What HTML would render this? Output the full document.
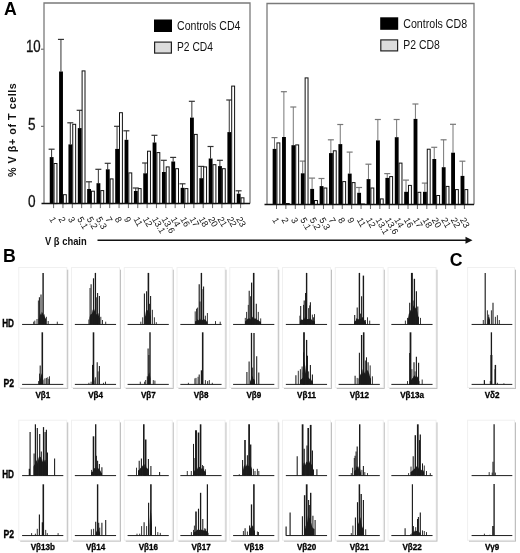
<!DOCTYPE html><html><head><meta charset="utf-8"><style>html,body{margin:0;padding:0;background:#fff;width:520px;height:553px;overflow:hidden}svg{display:block;will-change:transform}text{font-family:"Liberation Sans",sans-serif}</style></head><body>
<svg width="520" height="553" viewBox="0 0 520 553">
<rect width="520" height="553" fill="#fff"/>
<text x="4" y="14.5" font-size="17.7" font-weight="bold" fill="#000">A</text>
<text x="3" y="261.6" font-size="17.7" font-weight="bold" fill="#000">B</text>
<text x="449.8" y="266.2" font-size="17.7" font-weight="bold" fill="#000">C</text>
<text transform="translate(25.9 52.4) scale(0.8 1)" font-size="16.6" fill="#111" stroke="#111" stroke-width="0.3">10</text>
<text transform="translate(28.1 130.2) scale(0.82 1)" font-size="16.6" fill="#111" stroke="#111" stroke-width="0.3">5</text>
<text transform="translate(28.1 207.1) scale(0.82 1)" font-size="16.6" fill="#111" stroke="#111" stroke-width="0.3">0</text>
<line x1="41" y1="49.2" x2="44" y2="49.2" stroke="#555" stroke-width="1"/>
<line x1="41" y1="126.3" x2="44" y2="126.3" stroke="#555" stroke-width="1"/>
<text transform="translate(16.4 177) rotate(-90)" font-size="10.8" font-weight="bold" fill="#111" textLength="93.8" lengthAdjust="spacing">% V β+ of T cells</text>
<path d="M44 203.6 V3 H250 V203.6" fill="none" stroke="#7a7a7a" stroke-width="1.3"/>
<line x1="51.60" y1="157.1" x2="51.60" y2="149.2" stroke="#333" stroke-width="1"/>
<line x1="48.60" y1="149.2" x2="54.60" y2="149.2" stroke="#333" stroke-width="1.2"/>
<rect x="49.75" y="157.1" width="3.85" height="46.50" fill="#000"/>
<rect x="54.05" y="163.50" width="2.9" height="40.10" fill="#fff" stroke="#111" stroke-width="1"/>
<line x1="53.60" y1="203.6" x2="53.60" y2="208.1" stroke="#444" stroke-width="0.8"/>
<text transform="translate(49.00 218.90) rotate(60)" font-size="9" fill="#111">1</text>
<line x1="60.95" y1="71.5" x2="60.95" y2="39.4" stroke="#333" stroke-width="1"/>
<line x1="57.95" y1="39.4" x2="63.95" y2="39.4" stroke="#333" stroke-width="1.2"/>
<rect x="59.10" y="71.5" width="3.85" height="132.10" fill="#000"/>
<rect x="63.40" y="194.70" width="2.9" height="8.90" fill="#fff" stroke="#111" stroke-width="1"/>
<line x1="62.95" y1="203.6" x2="62.95" y2="208.1" stroke="#444" stroke-width="0.8"/>
<text transform="translate(58.35 218.90) rotate(60)" font-size="9" fill="#111">2</text>
<line x1="70.30" y1="144.4" x2="70.30" y2="122.8" stroke="#333" stroke-width="1"/>
<line x1="67.30" y1="122.8" x2="73.30" y2="122.8" stroke="#333" stroke-width="1.2"/>
<rect x="68.45" y="144.4" width="3.85" height="59.20" fill="#000"/>
<rect x="72.75" y="124.30" width="2.9" height="79.30" fill="#fff" stroke="#111" stroke-width="1"/>
<line x1="72.30" y1="203.6" x2="72.30" y2="208.1" stroke="#444" stroke-width="0.8"/>
<text transform="translate(67.70 218.90) rotate(60)" font-size="9" fill="#111">3</text>
<line x1="79.65" y1="128.1" x2="79.65" y2="110.3" stroke="#333" stroke-width="1"/>
<line x1="76.65" y1="110.3" x2="82.65" y2="110.3" stroke="#333" stroke-width="1.2"/>
<rect x="77.80" y="128.1" width="3.85" height="75.50" fill="#000"/>
<rect x="82.10" y="70.90" width="2.9" height="132.70" fill="#fff" stroke="#111" stroke-width="1"/>
<line x1="81.65" y1="203.6" x2="81.65" y2="208.1" stroke="#444" stroke-width="0.8"/>
<text transform="translate(77.05 218.90) rotate(60)" font-size="9" fill="#111">5.1</text>
<line x1="89.00" y1="189" x2="89.00" y2="181.8" stroke="#333" stroke-width="1"/>
<line x1="86.00" y1="181.8" x2="92.00" y2="181.8" stroke="#333" stroke-width="1.2"/>
<rect x="87.15" y="189" width="3.85" height="14.60" fill="#000"/>
<rect x="91.45" y="191.20" width="2.9" height="12.40" fill="#fff" stroke="#111" stroke-width="1"/>
<line x1="91.00" y1="203.6" x2="91.00" y2="208.1" stroke="#444" stroke-width="0.8"/>
<text transform="translate(86.40 218.90) rotate(60)" font-size="9" fill="#111">5.2</text>
<line x1="98.35" y1="183.2" x2="98.35" y2="169.3" stroke="#333" stroke-width="1"/>
<line x1="95.35" y1="169.3" x2="101.35" y2="169.3" stroke="#333" stroke-width="1.2"/>
<rect x="96.50" y="183.2" width="3.85" height="20.40" fill="#000"/>
<rect x="100.80" y="190.60" width="2.9" height="13.00" fill="#fff" stroke="#111" stroke-width="1"/>
<line x1="100.35" y1="203.6" x2="100.35" y2="208.1" stroke="#444" stroke-width="0.8"/>
<text transform="translate(95.75 218.90) rotate(60)" font-size="9" fill="#111">5.3</text>
<line x1="107.70" y1="169.3" x2="107.70" y2="163.3" stroke="#333" stroke-width="1"/>
<line x1="104.70" y1="163.3" x2="110.70" y2="163.3" stroke="#333" stroke-width="1.2"/>
<rect x="105.85" y="169.3" width="3.85" height="34.30" fill="#000"/>
<rect x="110.15" y="178.90" width="2.9" height="24.70" fill="#fff" stroke="#111" stroke-width="1"/>
<line x1="109.70" y1="203.6" x2="109.70" y2="208.1" stroke="#444" stroke-width="0.8"/>
<text transform="translate(105.10 218.90) rotate(60)" font-size="9" fill="#111">7</text>
<line x1="117.05" y1="148.9" x2="117.05" y2="126.3" stroke="#333" stroke-width="1"/>
<line x1="114.05" y1="126.3" x2="120.05" y2="126.3" stroke="#333" stroke-width="1.2"/>
<rect x="115.20" y="148.9" width="3.85" height="54.70" fill="#000"/>
<rect x="119.50" y="112.70" width="2.9" height="90.90" fill="#fff" stroke="#111" stroke-width="1"/>
<line x1="119.05" y1="203.6" x2="119.05" y2="208.1" stroke="#444" stroke-width="0.8"/>
<text transform="translate(114.45 218.90) rotate(60)" font-size="9" fill="#111">8</text>
<line x1="126.40" y1="139.8" x2="126.40" y2="130.8" stroke="#333" stroke-width="1"/>
<line x1="123.40" y1="130.8" x2="129.40" y2="130.8" stroke="#333" stroke-width="1.2"/>
<rect x="124.55" y="139.8" width="3.85" height="63.80" fill="#000"/>
<rect x="128.85" y="172.90" width="2.9" height="30.70" fill="#fff" stroke="#111" stroke-width="1"/>
<line x1="128.40" y1="203.6" x2="128.40" y2="208.1" stroke="#444" stroke-width="0.8"/>
<text transform="translate(123.80 218.90) rotate(60)" font-size="9" fill="#111">9</text>
<line x1="135.75" y1="191" x2="135.75" y2="188" stroke="#333" stroke-width="1"/>
<line x1="132.75" y1="188" x2="138.75" y2="188" stroke="#333" stroke-width="1.2"/>
<rect x="133.90" y="191" width="3.85" height="12.60" fill="#000"/>
<rect x="138.20" y="188.60" width="2.9" height="15.00" fill="#fff" stroke="#111" stroke-width="1"/>
<line x1="137.75" y1="203.6" x2="137.75" y2="208.1" stroke="#444" stroke-width="0.8"/>
<text transform="translate(133.15 218.90) rotate(60)" font-size="9" fill="#111">11</text>
<line x1="145.10" y1="173.3" x2="145.10" y2="163" stroke="#333" stroke-width="1"/>
<line x1="142.10" y1="163" x2="148.10" y2="163" stroke="#333" stroke-width="1.2"/>
<rect x="143.25" y="173.3" width="3.85" height="30.30" fill="#000"/>
<rect x="147.55" y="151.20" width="2.9" height="52.40" fill="#fff" stroke="#111" stroke-width="1"/>
<line x1="147.10" y1="203.6" x2="147.10" y2="208.1" stroke="#444" stroke-width="0.8"/>
<text transform="translate(142.50 218.90) rotate(60)" font-size="9" fill="#111">12</text>
<line x1="154.45" y1="142.5" x2="154.45" y2="135.3" stroke="#333" stroke-width="1"/>
<line x1="151.45" y1="135.3" x2="157.45" y2="135.3" stroke="#333" stroke-width="1.2"/>
<rect x="152.60" y="142.5" width="3.85" height="61.10" fill="#000"/>
<rect x="156.90" y="152.60" width="2.9" height="51.00" fill="#fff" stroke="#111" stroke-width="1"/>
<line x1="156.45" y1="203.6" x2="156.45" y2="208.1" stroke="#444" stroke-width="0.8"/>
<text transform="translate(151.85 218.90) rotate(60)" font-size="9" fill="#111">13.1</text>
<line x1="163.80" y1="172" x2="163.80" y2="160.3" stroke="#333" stroke-width="1"/>
<line x1="160.80" y1="160.3" x2="166.80" y2="160.3" stroke="#333" stroke-width="1.2"/>
<rect x="161.95" y="172" width="3.85" height="31.60" fill="#000"/>
<rect x="166.25" y="166.90" width="2.9" height="36.70" fill="#fff" stroke="#111" stroke-width="1"/>
<line x1="165.80" y1="203.6" x2="165.80" y2="208.1" stroke="#444" stroke-width="0.8"/>
<text transform="translate(161.20 218.90) rotate(60)" font-size="9" fill="#111">13.6</text>
<line x1="173.15" y1="161.5" x2="173.15" y2="157.4" stroke="#333" stroke-width="1"/>
<line x1="170.15" y1="157.4" x2="176.15" y2="157.4" stroke="#333" stroke-width="1.2"/>
<rect x="171.30" y="161.5" width="3.85" height="42.10" fill="#000"/>
<rect x="175.60" y="168.70" width="2.9" height="34.90" fill="#fff" stroke="#111" stroke-width="1"/>
<line x1="175.15" y1="203.6" x2="175.15" y2="208.1" stroke="#444" stroke-width="0.8"/>
<text transform="translate(170.55 218.90) rotate(60)" font-size="9" fill="#111">14</text>
<line x1="182.50" y1="187.8" x2="182.50" y2="183.8" stroke="#333" stroke-width="1"/>
<line x1="179.50" y1="183.8" x2="185.50" y2="183.8" stroke="#333" stroke-width="1.2"/>
<rect x="180.65" y="187.8" width="3.85" height="15.80" fill="#000"/>
<rect x="184.95" y="188.60" width="2.9" height="15.00" fill="#fff" stroke="#111" stroke-width="1"/>
<line x1="184.50" y1="203.6" x2="184.50" y2="208.1" stroke="#444" stroke-width="0.8"/>
<text transform="translate(179.90 218.90) rotate(60)" font-size="9" fill="#111">16</text>
<line x1="191.85" y1="117.6" x2="191.85" y2="101.3" stroke="#333" stroke-width="1"/>
<line x1="188.85" y1="101.3" x2="194.85" y2="101.3" stroke="#333" stroke-width="1.2"/>
<rect x="190.00" y="117.6" width="3.85" height="86.00" fill="#000"/>
<rect x="194.30" y="134.40" width="2.9" height="69.20" fill="#fff" stroke="#111" stroke-width="1"/>
<line x1="193.85" y1="203.6" x2="193.85" y2="208.1" stroke="#444" stroke-width="0.8"/>
<text transform="translate(189.25 218.90) rotate(60)" font-size="9" fill="#111">17</text>
<line x1="201.20" y1="178.2" x2="201.20" y2="166.4" stroke="#333" stroke-width="1"/>
<line x1="198.20" y1="166.4" x2="204.20" y2="166.4" stroke="#333" stroke-width="1.2"/>
<rect x="199.35" y="178.2" width="3.85" height="25.40" fill="#000"/>
<rect x="203.65" y="166.90" width="2.9" height="36.70" fill="#fff" stroke="#111" stroke-width="1"/>
<line x1="203.20" y1="203.6" x2="203.20" y2="208.1" stroke="#444" stroke-width="0.8"/>
<text transform="translate(198.60 218.90) rotate(60)" font-size="9" fill="#111">18</text>
<line x1="210.55" y1="158.5" x2="210.55" y2="146.5" stroke="#333" stroke-width="1"/>
<line x1="207.55" y1="146.5" x2="213.55" y2="146.5" stroke="#333" stroke-width="1.2"/>
<rect x="208.70" y="158.5" width="3.85" height="45.10" fill="#000"/>
<rect x="213.00" y="164.70" width="2.9" height="38.90" fill="#fff" stroke="#111" stroke-width="1"/>
<line x1="212.55" y1="203.6" x2="212.55" y2="208.1" stroke="#444" stroke-width="0.8"/>
<text transform="translate(207.95 218.90) rotate(60)" font-size="9" fill="#111">20</text>
<line x1="219.90" y1="166.1" x2="219.90" y2="160.3" stroke="#333" stroke-width="1"/>
<line x1="216.90" y1="160.3" x2="222.90" y2="160.3" stroke="#333" stroke-width="1.2"/>
<rect x="218.05" y="166.1" width="3.85" height="37.50" fill="#000"/>
<rect x="222.35" y="168.70" width="2.9" height="34.90" fill="#fff" stroke="#111" stroke-width="1"/>
<line x1="221.90" y1="203.6" x2="221.90" y2="208.1" stroke="#444" stroke-width="0.8"/>
<text transform="translate(217.30 218.90) rotate(60)" font-size="9" fill="#111">21</text>
<line x1="229.25" y1="132.1" x2="229.25" y2="100" stroke="#333" stroke-width="1"/>
<line x1="226.25" y1="100" x2="232.25" y2="100" stroke="#333" stroke-width="1.2"/>
<rect x="227.40" y="132.1" width="3.85" height="71.50" fill="#000"/>
<rect x="231.70" y="86.10" width="2.9" height="117.50" fill="#fff" stroke="#111" stroke-width="1"/>
<line x1="231.25" y1="203.6" x2="231.25" y2="208.1" stroke="#444" stroke-width="0.8"/>
<text transform="translate(226.65 218.90) rotate(60)" font-size="9" fill="#111">22</text>
<line x1="238.60" y1="193.7" x2="238.60" y2="190.8" stroke="#333" stroke-width="1"/>
<line x1="235.60" y1="190.8" x2="241.60" y2="190.8" stroke="#333" stroke-width="1.2"/>
<rect x="236.75" y="193.7" width="3.85" height="9.90" fill="#000"/>
<rect x="241.05" y="197.80" width="2.9" height="5.80" fill="#fff" stroke="#111" stroke-width="1"/>
<line x1="240.60" y1="203.6" x2="240.60" y2="208.1" stroke="#444" stroke-width="0.8"/>
<text transform="translate(236.00 218.90) rotate(60)" font-size="9" fill="#111">23</text>
<line x1="41.5" y1="203.6" x2="250" y2="203.6" stroke="#111" stroke-width="1.5"/>
<rect x="154" y="19.5" width="18" height="12.5" fill="#000"/>
<rect x="154.6" y="42.1" width="16.8" height="11" fill="#dcdcdc" stroke="#222" stroke-width="1.2"/>
<text x="177" y="29.7" font-size="13" fill="#111" textLength="63.5" lengthAdjust="spacingAndGlyphs">Controls CD4</text>
<text x="177" y="50.7" font-size="13" fill="#111" textLength="36" lengthAdjust="spacingAndGlyphs">P2 CD4</text>
<path d="M267 204.5 V3.5 H474 V204.5" fill="none" stroke="#7a7a7a" stroke-width="1.3"/>
<line x1="274.50" y1="148.9" x2="274.50" y2="137.6" stroke="#777" stroke-width="1"/>
<line x1="271.50" y1="137.6" x2="277.50" y2="137.6" stroke="#777" stroke-width="1.2"/>
<rect x="272.65" y="148.9" width="3.85" height="55.60" fill="#000"/>
<rect x="276.95" y="142.90" width="2.9" height="61.60" fill="#fff" stroke="#111" stroke-width="1"/>
<line x1="276.50" y1="204.5" x2="276.50" y2="209.0" stroke="#444" stroke-width="0.8"/>
<text transform="translate(271.90 219.80) rotate(60)" font-size="9" fill="#111">1</text>
<line x1="283.89" y1="137" x2="283.89" y2="91.7" stroke="#777" stroke-width="1"/>
<line x1="280.89" y1="91.7" x2="286.89" y2="91.7" stroke="#777" stroke-width="1.2"/>
<rect x="282.04" y="137" width="3.85" height="67.50" fill="#000"/>
<rect x="286.34" y="203.50" width="2.9" height="1.00" fill="#fff" stroke="#111" stroke-width="1"/>
<line x1="285.89" y1="204.5" x2="285.89" y2="209.0" stroke="#444" stroke-width="0.8"/>
<text transform="translate(281.29 219.80) rotate(60)" font-size="9" fill="#111">2</text>
<line x1="293.29" y1="145.2" x2="293.29" y2="107" stroke="#777" stroke-width="1"/>
<line x1="290.29" y1="107" x2="296.29" y2="107" stroke="#777" stroke-width="1.2"/>
<rect x="291.44" y="145.2" width="3.85" height="59.30" fill="#000"/>
<rect x="295.74" y="144.90" width="2.9" height="59.60" fill="#fff" stroke="#111" stroke-width="1"/>
<line x1="295.29" y1="204.5" x2="295.29" y2="209.0" stroke="#444" stroke-width="0.8"/>
<text transform="translate(290.69 219.80) rotate(60)" font-size="9" fill="#111">3</text>
<line x1="302.69" y1="173.3" x2="302.69" y2="161.1" stroke="#777" stroke-width="1"/>
<line x1="299.69" y1="161.1" x2="305.69" y2="161.1" stroke="#777" stroke-width="1.2"/>
<rect x="300.83" y="173.3" width="3.85" height="31.20" fill="#000"/>
<rect x="305.13" y="77.90" width="2.9" height="126.60" fill="#fff" stroke="#111" stroke-width="1"/>
<line x1="304.69" y1="204.5" x2="304.69" y2="209.0" stroke="#444" stroke-width="0.8"/>
<text transform="translate(300.08 219.80) rotate(60)" font-size="9" fill="#111">5.1</text>
<line x1="312.08" y1="188.9" x2="312.08" y2="178.1" stroke="#777" stroke-width="1"/>
<line x1="309.08" y1="178.1" x2="315.08" y2="178.1" stroke="#777" stroke-width="1.2"/>
<rect x="310.23" y="188.9" width="3.85" height="15.60" fill="#000"/>
<rect x="314.53" y="200.50" width="2.9" height="4.00" fill="#fff" stroke="#111" stroke-width="1"/>
<line x1="314.08" y1="204.5" x2="314.08" y2="209.0" stroke="#444" stroke-width="0.8"/>
<text transform="translate(309.48 219.80) rotate(60)" font-size="9" fill="#111">5.2</text>
<line x1="321.48" y1="186.1" x2="321.48" y2="178.5" stroke="#777" stroke-width="1"/>
<line x1="318.48" y1="178.5" x2="324.48" y2="178.5" stroke="#777" stroke-width="1.2"/>
<rect x="319.62" y="186.1" width="3.85" height="18.40" fill="#000"/>
<rect x="323.93" y="188.00" width="2.9" height="16.50" fill="#fff" stroke="#111" stroke-width="1"/>
<line x1="323.48" y1="204.5" x2="323.48" y2="209.0" stroke="#444" stroke-width="0.8"/>
<text transform="translate(318.88 219.80) rotate(60)" font-size="9" fill="#111">5.3</text>
<line x1="330.87" y1="153.1" x2="330.87" y2="139.8" stroke="#777" stroke-width="1"/>
<line x1="327.87" y1="139.8" x2="333.87" y2="139.8" stroke="#777" stroke-width="1.2"/>
<rect x="329.02" y="153.1" width="3.85" height="51.40" fill="#000"/>
<rect x="333.32" y="150.80" width="2.9" height="53.70" fill="#fff" stroke="#111" stroke-width="1"/>
<line x1="332.87" y1="204.5" x2="332.87" y2="209.0" stroke="#444" stroke-width="0.8"/>
<text transform="translate(328.27 219.80) rotate(60)" font-size="9" fill="#111">7</text>
<line x1="340.26" y1="144.1" x2="340.26" y2="124.5" stroke="#777" stroke-width="1"/>
<line x1="337.26" y1="124.5" x2="343.26" y2="124.5" stroke="#777" stroke-width="1.2"/>
<rect x="338.41" y="144.1" width="3.85" height="60.40" fill="#000"/>
<rect x="342.71" y="181.60" width="2.9" height="22.90" fill="#fff" stroke="#111" stroke-width="1"/>
<line x1="342.26" y1="204.5" x2="342.26" y2="209.0" stroke="#444" stroke-width="0.8"/>
<text transform="translate(337.66 219.80) rotate(60)" font-size="9" fill="#111">8</text>
<line x1="349.66" y1="173.6" x2="349.66" y2="152.1" stroke="#777" stroke-width="1"/>
<line x1="346.66" y1="152.1" x2="352.66" y2="152.1" stroke="#777" stroke-width="1.2"/>
<rect x="347.81" y="173.6" width="3.85" height="30.90" fill="#000"/>
<rect x="352.11" y="182.60" width="2.9" height="21.90" fill="#fff" stroke="#111" stroke-width="1"/>
<line x1="351.66" y1="204.5" x2="351.66" y2="209.0" stroke="#444" stroke-width="0.8"/>
<text transform="translate(347.06 219.80) rotate(60)" font-size="9" fill="#111">9</text>
<line x1="359.06" y1="192.8" x2="359.06" y2="187.5" stroke="#777" stroke-width="1"/>
<line x1="356.06" y1="187.5" x2="362.06" y2="187.5" stroke="#777" stroke-width="1.2"/>
<rect x="357.20" y="192.8" width="3.85" height="11.70" fill="#000"/>
<rect x="361.50" y="204.00" width="2.9" height="0.50" fill="#fff" stroke="#111" stroke-width="1"/>
<line x1="361.06" y1="204.5" x2="361.06" y2="209.0" stroke="#444" stroke-width="0.8"/>
<text transform="translate(356.45 219.80) rotate(60)" font-size="9" fill="#111">11</text>
<line x1="368.45" y1="179.1" x2="368.45" y2="164.2" stroke="#777" stroke-width="1"/>
<line x1="365.45" y1="164.2" x2="371.45" y2="164.2" stroke="#777" stroke-width="1.2"/>
<rect x="366.60" y="179.1" width="3.85" height="25.40" fill="#000"/>
<rect x="370.90" y="188.00" width="2.9" height="16.50" fill="#fff" stroke="#111" stroke-width="1"/>
<line x1="370.45" y1="204.5" x2="370.45" y2="209.0" stroke="#444" stroke-width="0.8"/>
<text transform="translate(365.85 219.80) rotate(60)" font-size="9" fill="#111">12</text>
<line x1="377.85" y1="140.4" x2="377.85" y2="119.5" stroke="#777" stroke-width="1"/>
<line x1="374.85" y1="119.5" x2="380.85" y2="119.5" stroke="#777" stroke-width="1.2"/>
<rect x="376.00" y="140.4" width="3.85" height="64.10" fill="#000"/>
<rect x="380.30" y="198.90" width="2.9" height="5.60" fill="#fff" stroke="#111" stroke-width="1"/>
<line x1="379.85" y1="204.5" x2="379.85" y2="209.0" stroke="#444" stroke-width="0.8"/>
<text transform="translate(375.25 219.80) rotate(60)" font-size="9" fill="#111">13.1</text>
<line x1="387.24" y1="177.9" x2="387.24" y2="173.6" stroke="#777" stroke-width="1"/>
<line x1="384.24" y1="173.6" x2="390.24" y2="173.6" stroke="#777" stroke-width="1.2"/>
<rect x="385.39" y="177.9" width="3.85" height="26.60" fill="#000"/>
<rect x="389.69" y="176.60" width="2.9" height="27.90" fill="#fff" stroke="#111" stroke-width="1"/>
<line x1="389.24" y1="204.5" x2="389.24" y2="209.0" stroke="#444" stroke-width="0.8"/>
<text transform="translate(384.64 219.80) rotate(60)" font-size="9" fill="#111">13.6</text>
<line x1="396.63" y1="137.2" x2="396.63" y2="119.5" stroke="#777" stroke-width="1"/>
<line x1="393.63" y1="119.5" x2="399.63" y2="119.5" stroke="#777" stroke-width="1.2"/>
<rect x="394.78" y="137.2" width="3.85" height="67.30" fill="#000"/>
<rect x="399.08" y="163.10" width="2.9" height="41.40" fill="#fff" stroke="#111" stroke-width="1"/>
<line x1="398.63" y1="204.5" x2="398.63" y2="209.0" stroke="#444" stroke-width="0.8"/>
<text transform="translate(394.03 219.80) rotate(60)" font-size="9" fill="#111">14</text>
<line x1="406.03" y1="191.8" x2="406.03" y2="180.1" stroke="#777" stroke-width="1"/>
<line x1="403.03" y1="180.1" x2="409.03" y2="180.1" stroke="#777" stroke-width="1.2"/>
<rect x="404.18" y="191.8" width="3.85" height="12.70" fill="#000"/>
<rect x="408.48" y="185.40" width="2.9" height="19.10" fill="#fff" stroke="#111" stroke-width="1"/>
<line x1="408.03" y1="204.5" x2="408.03" y2="209.0" stroke="#444" stroke-width="0.8"/>
<text transform="translate(403.43 219.80) rotate(60)" font-size="9" fill="#111">16</text>
<line x1="415.42" y1="118.9" x2="415.42" y2="104" stroke="#777" stroke-width="1"/>
<line x1="412.42" y1="104" x2="418.42" y2="104" stroke="#777" stroke-width="1.2"/>
<rect x="413.57" y="118.9" width="3.85" height="85.60" fill="#000"/>
<rect x="417.87" y="192.30" width="2.9" height="12.20" fill="#fff" stroke="#111" stroke-width="1"/>
<line x1="417.42" y1="204.5" x2="417.42" y2="209.0" stroke="#444" stroke-width="0.8"/>
<text transform="translate(412.82 219.80) rotate(60)" font-size="9" fill="#111">17</text>
<line x1="424.82" y1="191.8" x2="424.82" y2="183.1" stroke="#777" stroke-width="1"/>
<line x1="421.82" y1="183.1" x2="427.82" y2="183.1" stroke="#777" stroke-width="1.2"/>
<rect x="422.97" y="191.8" width="3.85" height="12.70" fill="#000"/>
<rect x="427.27" y="149.20" width="2.9" height="55.30" fill="#fff" stroke="#111" stroke-width="1"/>
<line x1="426.82" y1="204.5" x2="426.82" y2="209.0" stroke="#444" stroke-width="0.8"/>
<text transform="translate(422.22 219.80) rotate(60)" font-size="9" fill="#111">18</text>
<line x1="434.22" y1="159" x2="434.22" y2="147.3" stroke="#777" stroke-width="1"/>
<line x1="431.22" y1="147.3" x2="437.22" y2="147.3" stroke="#777" stroke-width="1.2"/>
<rect x="432.37" y="159" width="3.85" height="45.50" fill="#000"/>
<rect x="436.67" y="195.50" width="2.9" height="9.00" fill="#fff" stroke="#111" stroke-width="1"/>
<line x1="436.22" y1="204.5" x2="436.22" y2="209.0" stroke="#444" stroke-width="0.8"/>
<text transform="translate(431.62 219.80) rotate(60)" font-size="9" fill="#111">20</text>
<line x1="443.61" y1="167.2" x2="443.61" y2="139.8" stroke="#777" stroke-width="1"/>
<line x1="440.61" y1="139.8" x2="446.61" y2="139.8" stroke="#777" stroke-width="1.2"/>
<rect x="441.76" y="167.2" width="3.85" height="37.30" fill="#000"/>
<rect x="446.06" y="186.40" width="2.9" height="18.10" fill="#fff" stroke="#111" stroke-width="1"/>
<line x1="445.61" y1="204.5" x2="445.61" y2="209.0" stroke="#444" stroke-width="0.8"/>
<text transform="translate(441.01 219.80) rotate(60)" font-size="9" fill="#111">21</text>
<line x1="453.00" y1="152.7" x2="453.00" y2="124.3" stroke="#777" stroke-width="1"/>
<line x1="450.00" y1="124.3" x2="456.00" y2="124.3" stroke="#777" stroke-width="1.2"/>
<rect x="451.15" y="152.7" width="3.85" height="51.80" fill="#000"/>
<rect x="455.45" y="189.60" width="2.9" height="14.90" fill="#fff" stroke="#111" stroke-width="1"/>
<line x1="455.00" y1="204.5" x2="455.00" y2="209.0" stroke="#444" stroke-width="0.8"/>
<text transform="translate(450.40 219.80) rotate(60)" font-size="9" fill="#111">22</text>
<line x1="462.40" y1="175.9" x2="462.40" y2="161.2" stroke="#777" stroke-width="1"/>
<line x1="459.40" y1="161.2" x2="465.40" y2="161.2" stroke="#777" stroke-width="1.2"/>
<rect x="460.55" y="175.9" width="3.85" height="28.60" fill="#000"/>
<rect x="464.85" y="189.60" width="2.9" height="14.90" fill="#fff" stroke="#111" stroke-width="1"/>
<line x1="464.40" y1="204.5" x2="464.40" y2="209.0" stroke="#444" stroke-width="0.8"/>
<text transform="translate(459.80 219.80) rotate(60)" font-size="9" fill="#111">23</text>
<line x1="264.5" y1="204.5" x2="474" y2="204.5" stroke="#111" stroke-width="1.5"/>
<rect x="380.2" y="17.3" width="18" height="12.5" fill="#000"/>
<rect x="380.8" y="39.900000000000006" width="16.8" height="11" fill="#dcdcdc" stroke="#222" stroke-width="1.2"/>
<text x="403.2" y="27.5" font-size="13" fill="#111" textLength="64" lengthAdjust="spacingAndGlyphs">Controls CD8</text>
<text x="403.2" y="48.5" font-size="13" fill="#111" textLength="36.6" lengthAdjust="spacingAndGlyphs">P2 CD8</text>
<text x="45" y="245.2" font-size="11" font-weight="bold" fill="#111" textLength="41.7" lengthAdjust="spacingAndGlyphs">V β chain</text>
<line x1="97.5" y1="240.3" x2="467" y2="240.3" stroke="#111" stroke-width="1.5"/>
<path d="M465.5 236.8 L472.5 240.3 L465.5 243.8 Z" fill="#111"/>
<defs><filter id="blur" x="-10%" y="-10%" width="120%" height="120%"><feGaussianBlur stdDeviation="0.7"/></filter></defs>
<rect x="20.2" y="269.7" width="48" height="119.2" fill="#bababa" filter="url(#blur)"/>
<rect x="18.8" y="267.5" width="48" height="120" fill="#fff" stroke="#f0f0f0" stroke-width="1"/>
<line x1="22.10" y1="324.45" x2="63.30" y2="324.45" stroke="#111" stroke-width="0.95"/>
<polygon points="38.50,324.45 38.50,319.34 39.33,317.59 40.17,313.33 41.00,315.26 41.83,311.86 42.67,312.91 43.50,315.34 44.33,314.07 45.17,318.06 46.00,319.03 46.00,324.45" fill="#1e1e1e"/>
<line x1="43.1" y1="324.45" x2="43.1" y2="272.9" stroke="#1a1a1a" stroke-width="1.41"/>
<line x1="41.0" y1="324.45" x2="41.0" y2="294.6" stroke="#1a1a1a" stroke-width="1.06"/>
<line x1="39.4" y1="324.45" x2="39.4" y2="297.3" stroke="#1a1a1a" stroke-width="1.06"/>
<line x1="38.4" y1="324.45" x2="38.4" y2="300.5" stroke="#1a1a1a" stroke-width="0.88"/>
<line x1="44.9" y1="324.45" x2="44.9" y2="318.4" stroke="#1a1a1a" stroke-width="0.88"/>
<line x1="46.4" y1="324.45" x2="46.4" y2="316.8" stroke="#1a1a1a" stroke-width="0.88"/>
<line x1="48.2" y1="324.45" x2="48.2" y2="321" stroke="#1a1a1a" stroke-width="0.88"/>
<line x1="34.8" y1="324.45" x2="34.8" y2="320.6" stroke="#1a1a1a" stroke-width="0.88"/>
<line x1="33.7" y1="324.45" x2="33.7" y2="321.7" stroke="#1a1a1a" stroke-width="0.88"/>
<line x1="57.3" y1="324.45" x2="57.3" y2="321.7" stroke="#1a1a1a" stroke-width="0.88"/>
<line x1="37" y1="324.45" x2="37" y2="319" stroke="#1a1a1a" stroke-width="0.88"/>
<line x1="45.5" y1="324.45" x2="45.5" y2="320" stroke="#1a1a1a" stroke-width="0.88"/>
<line x1="22.10" y1="384.4" x2="63.30" y2="384.4" stroke="#111" stroke-width="0.95"/>
<polygon points="39.50,384.4 39.50,380.94 40.30,378.15 41.10,375.18 41.90,373.25 42.70,378.02 43.50,380.60 43.50,384.4" fill="#1e1e1e"/>
<line x1="42.3" y1="384.4" x2="42.3" y2="332.3" stroke="#1a1a1a" stroke-width="1.58"/>
<line x1="40.2" y1="384.4" x2="40.2" y2="365.4" stroke="#1a1a1a" stroke-width="1.06"/>
<line x1="39.5" y1="384.4" x2="39.5" y2="373.6" stroke="#1a1a1a" stroke-width="0.88"/>
<line x1="38.6" y1="384.4" x2="38.6" y2="381.1" stroke="#1a1a1a" stroke-width="0.88"/>
<line x1="44.9" y1="384.4" x2="44.9" y2="378.4" stroke="#1a1a1a" stroke-width="0.88"/>
<line x1="46.4" y1="384.4" x2="46.4" y2="377.9" stroke="#1a1a1a" stroke-width="0.88"/>
<line x1="47.8" y1="384.4" x2="47.8" y2="377.3" stroke="#1a1a1a" stroke-width="0.88"/>
<line x1="49.5" y1="384.4" x2="49.5" y2="376.3" stroke="#1a1a1a" stroke-width="0.88"/>
<line x1="48.9" y1="384.4" x2="48.9" y2="379" stroke="#1a1a1a" stroke-width="0.88"/>
<text transform="translate(42.80 397.7) scale(0.9 1)" font-size="9" font-weight="bold" fill="#000" stroke="#000" stroke-width="0.3" text-anchor="middle">Vβ1</text>
<rect x="72.95" y="269.7" width="48" height="119.2" fill="#bababa" filter="url(#blur)"/>
<rect x="71.55" y="267.5" width="48" height="120" fill="#fff" stroke="#f0f0f0" stroke-width="1"/>
<line x1="74.85" y1="324.45" x2="116.05" y2="324.45" stroke="#111" stroke-width="0.95"/>
<polygon points="89.50,324.45 89.50,318.01 90.31,314.47 91.12,314.16 91.92,313.73 92.73,309.15 93.54,314.35 94.35,308.64 95.15,312.45 95.96,313.72 96.77,314.46 97.58,314.23 98.38,312.98 99.19,317.60 100.00,318.15 100.00,324.45" fill="#1e1e1e"/>
<line x1="95.4" y1="324.45" x2="95.4" y2="272.9" stroke="#1a1a1a" stroke-width="1.32"/>
<line x1="93.5" y1="324.45" x2="93.5" y2="278.3" stroke="#1a1a1a" stroke-width="1.14"/>
<line x1="91.1" y1="324.45" x2="91.1" y2="284.3" stroke="#1a1a1a" stroke-width="1.06"/>
<line x1="90" y1="324.45" x2="90" y2="288" stroke="#1a1a1a" stroke-width="0.88"/>
<line x1="97.6" y1="324.45" x2="97.6" y2="293" stroke="#1a1a1a" stroke-width="1.06"/>
<line x1="99.4" y1="324.45" x2="99.4" y2="296" stroke="#1a1a1a" stroke-width="1.06"/>
<line x1="96.7" y1="324.45" x2="96.7" y2="297.3" stroke="#1a1a1a" stroke-width="0.88"/>
<line x1="100.8" y1="324.45" x2="100.8" y2="316.8" stroke="#1a1a1a" stroke-width="0.88"/>
<line x1="102.5" y1="324.45" x2="102.5" y2="320" stroke="#1a1a1a" stroke-width="0.88"/>
<line x1="105.7" y1="324.45" x2="105.7" y2="321.7" stroke="#1a1a1a" stroke-width="0.88"/>
<line x1="88.9" y1="324.45" x2="88.9" y2="319.5" stroke="#1a1a1a" stroke-width="0.88"/>
<line x1="74.85" y1="384.4" x2="116.05" y2="384.4" stroke="#111" stroke-width="0.95"/>
<polygon points="92.00,384.4 92.00,380.36 92.83,377.02 93.67,376.33 94.50,381.45 94.50,384.4" fill="#1e1e1e"/>
<line x1="93.5" y1="384.4" x2="93.5" y2="332.3" stroke="#1a1a1a" stroke-width="1.58"/>
<line x1="92.5" y1="384.4" x2="92.5" y2="364.9" stroke="#1a1a1a" stroke-width="1.06"/>
<line x1="97.2" y1="384.4" x2="97.2" y2="362.2" stroke="#1a1a1a" stroke-width="1.06"/>
<line x1="99.4" y1="384.4" x2="99.4" y2="366" stroke="#1a1a1a" stroke-width="1.06"/>
<line x1="98.1" y1="384.4" x2="98.1" y2="371.4" stroke="#1a1a1a" stroke-width="0.88"/>
<line x1="95.4" y1="384.4" x2="95.4" y2="377.3" stroke="#1a1a1a" stroke-width="0.88"/>
<line x1="91.1" y1="384.4" x2="91.1" y2="381.7" stroke="#1a1a1a" stroke-width="0.88"/>
<line x1="105.5" y1="384.4" x2="105.5" y2="381.7" stroke="#1a1a1a" stroke-width="0.88"/>
<line x1="103.5" y1="384.4" x2="103.5" y2="382.8" stroke="#1a1a1a" stroke-width="0.88"/>
<line x1="88.9" y1="384.4" x2="88.9" y2="382.8" stroke="#1a1a1a" stroke-width="0.88"/>
<text transform="translate(95.55 397.7) scale(0.9 1)" font-size="9" font-weight="bold" fill="#000" stroke="#000" stroke-width="0.3" text-anchor="middle">Vβ4</text>
<rect x="125.7" y="269.7" width="48" height="119.2" fill="#bababa" filter="url(#blur)"/>
<rect x="124.3" y="267.5" width="48" height="120" fill="#fff" stroke="#f0f0f0" stroke-width="1"/>
<line x1="127.60" y1="324.45" x2="168.80" y2="324.45" stroke="#111" stroke-width="0.95"/>
<polygon points="144.50,324.45 144.50,319.03 145.31,315.35 146.12,309.92 146.94,310.07 147.75,310.44 148.56,308.89 149.38,311.44 150.19,314.85 151.00,316.47 151.00,324.45" fill="#1e1e1e"/>
<line x1="148.4" y1="324.45" x2="148.4" y2="272.9" stroke="#1a1a1a" stroke-width="1.58"/>
<line x1="146.6" y1="324.45" x2="146.6" y2="291.3" stroke="#1a1a1a" stroke-width="1.06"/>
<line x1="144.4" y1="324.45" x2="144.4" y2="293.5" stroke="#1a1a1a" stroke-width="1.06"/>
<line x1="150.6" y1="324.45" x2="150.6" y2="296" stroke="#1a1a1a" stroke-width="1.06"/>
<line x1="149.5" y1="324.45" x2="149.5" y2="303.8" stroke="#1a1a1a" stroke-width="0.88"/>
<line x1="152.4" y1="324.45" x2="152.4" y2="309.8" stroke="#1a1a1a" stroke-width="0.88"/>
<line x1="154.4" y1="324.45" x2="154.4" y2="317.3" stroke="#1a1a1a" stroke-width="0.88"/>
<line x1="142.7" y1="324.45" x2="142.7" y2="317.3" stroke="#1a1a1a" stroke-width="0.88"/>
<line x1="140.8" y1="324.45" x2="140.8" y2="321.7" stroke="#1a1a1a" stroke-width="0.88"/>
<line x1="156.3" y1="324.45" x2="156.3" y2="322.2" stroke="#1a1a1a" stroke-width="0.88"/>
<line x1="127.60" y1="384.4" x2="168.80" y2="384.4" stroke="#111" stroke-width="0.95"/>
<polygon points="147.50,384.4 147.50,378.26 148.50,374.25 149.50,372.32 150.50,378.75 150.50,384.4" fill="#1e1e1e"/>
<line x1="150" y1="384.4" x2="150" y2="332.3" stroke="#1a1a1a" stroke-width="1.41"/>
<line x1="148.1" y1="384.4" x2="148.1" y2="348.6" stroke="#1a1a1a" stroke-width="1.06"/>
<line x1="148.9" y1="384.4" x2="148.9" y2="355.1" stroke="#1a1a1a" stroke-width="1.06"/>
<line x1="147.3" y1="384.4" x2="147.3" y2="376.3" stroke="#1a1a1a" stroke-width="0.88"/>
<line x1="153.3" y1="384.4" x2="153.3" y2="380.1" stroke="#1a1a1a" stroke-width="0.88"/>
<line x1="154.9" y1="384.4" x2="154.9" y2="380.6" stroke="#1a1a1a" stroke-width="0.88"/>
<line x1="140.3" y1="384.4" x2="140.3" y2="381.7" stroke="#1a1a1a" stroke-width="0.88"/>
<line x1="144.6" y1="384.4" x2="144.6" y2="381.7" stroke="#1a1a1a" stroke-width="0.88"/>
<line x1="145.7" y1="384.4" x2="145.7" y2="380" stroke="#1a1a1a" stroke-width="0.88"/>
<text transform="translate(148.30 397.7) scale(0.9 1)" font-size="9" font-weight="bold" fill="#000" stroke="#000" stroke-width="0.3" text-anchor="middle">Vβ7</text>
<rect x="178.45000000000002" y="269.7" width="48" height="119.2" fill="#bababa" filter="url(#blur)"/>
<rect x="177.05" y="267.5" width="48" height="120" fill="#fff" stroke="#f0f0f0" stroke-width="1"/>
<line x1="180.35" y1="324.45" x2="221.55" y2="324.45" stroke="#111" stroke-width="0.95"/>
<polygon points="195.00,324.45 195.00,321.54 195.83,320.88 196.67,321.02 197.50,319.03 198.33,320.57 199.17,319.54 200.00,318.43 200.83,319.96 201.67,319.04 202.50,320.35 203.33,318.90 204.17,319.02 205.00,319.92 205.83,319.89 206.67,321.55 207.50,321.76 207.50,324.45" fill="#1e1e1e"/>
<line x1="201.4" y1="324.45" x2="201.4" y2="272.9" stroke="#1a1a1a" stroke-width="1.41"/>
<line x1="199.2" y1="324.45" x2="199.2" y2="284.3" stroke="#1a1a1a" stroke-width="1.14"/>
<line x1="203.6" y1="324.45" x2="203.6" y2="286.4" stroke="#1a1a1a" stroke-width="1.06"/>
<line x1="203" y1="324.45" x2="203" y2="289.1" stroke="#1a1a1a" stroke-width="0.88"/>
<line x1="200" y1="324.45" x2="200" y2="301.6" stroke="#1a1a1a" stroke-width="1.06"/>
<line x1="197.6" y1="324.45" x2="197.6" y2="307.6" stroke="#1a1a1a" stroke-width="0.88"/>
<line x1="196.5" y1="324.45" x2="196.5" y2="308.7" stroke="#1a1a1a" stroke-width="0.88"/>
<line x1="195.2" y1="324.45" x2="195.2" y2="311.4" stroke="#1a1a1a" stroke-width="0.88"/>
<line x1="207.4" y1="324.45" x2="207.4" y2="313" stroke="#1a1a1a" stroke-width="0.88"/>
<line x1="205.4" y1="324.45" x2="205.4" y2="315.7" stroke="#1a1a1a" stroke-width="0.88"/>
<line x1="215.5" y1="324.45" x2="215.5" y2="321.1" stroke="#1a1a1a" stroke-width="0.88"/>
<line x1="220.2" y1="324.45" x2="220.2" y2="321.7" stroke="#1a1a1a" stroke-width="0.88"/>
<line x1="180.35" y1="384.4" x2="221.55" y2="384.4" stroke="#111" stroke-width="0.95"/>
<line x1="202.7" y1="384.4" x2="202.7" y2="332.3" stroke="#1a1a1a" stroke-width="1.58"/>
<line x1="201.4" y1="384.4" x2="201.4" y2="370.3" stroke="#1a1a1a" stroke-width="1.23"/>
<line x1="199.2" y1="384.4" x2="199.2" y2="374.6" stroke="#1a1a1a" stroke-width="1.06"/>
<line x1="198.1" y1="384.4" x2="198.1" y2="376.8" stroke="#1a1a1a" stroke-width="0.88"/>
<line x1="196" y1="384.4" x2="196" y2="377.9" stroke="#1a1a1a" stroke-width="0.88"/>
<line x1="194.9" y1="384.4" x2="194.9" y2="378.4" stroke="#1a1a1a" stroke-width="0.88"/>
<line x1="205.4" y1="384.4" x2="205.4" y2="380.1" stroke="#1a1a1a" stroke-width="0.88"/>
<line x1="207.6" y1="384.4" x2="207.6" y2="381.1" stroke="#1a1a1a" stroke-width="0.88"/>
<line x1="209.3" y1="384.4" x2="209.3" y2="380.1" stroke="#1a1a1a" stroke-width="0.88"/>
<line x1="188.4" y1="384.4" x2="188.4" y2="382.8" stroke="#1a1a1a" stroke-width="0.88"/>
<line x1="212.3" y1="384.4" x2="212.3" y2="382.8" stroke="#1a1a1a" stroke-width="0.88"/>
<text transform="translate(201.05 397.7) scale(0.9 1)" font-size="9" font-weight="bold" fill="#000" stroke="#000" stroke-width="0.3" text-anchor="middle">Vβ8</text>
<rect x="231.20000000000002" y="269.7" width="48" height="119.2" fill="#bababa" filter="url(#blur)"/>
<rect x="229.8" y="267.5" width="48" height="120" fill="#fff" stroke="#f0f0f0" stroke-width="1"/>
<line x1="233.10" y1="324.45" x2="274.30" y2="324.45" stroke="#111" stroke-width="0.95"/>
<polygon points="245.00,324.45 245.00,321.41 245.80,320.73 246.60,320.36 247.40,318.94 248.20,318.13 249.00,318.96 249.80,318.08 250.60,319.67 251.40,317.51 252.20,317.56 253.00,316.41 253.80,317.00 254.60,318.82 255.40,318.67 256.20,318.07 257.00,320.21 257.80,319.38 258.60,320.52 259.40,321.07 260.20,321.66 261.00,321.16 261.00,324.45" fill="#1e1e1e"/>
<line x1="253.7" y1="324.45" x2="253.7" y2="272.9" stroke="#1a1a1a" stroke-width="1.58"/>
<line x1="251.6" y1="324.45" x2="251.6" y2="282.6" stroke="#1a1a1a" stroke-width="1.23"/>
<line x1="249.2" y1="324.45" x2="249.2" y2="290.8" stroke="#1a1a1a" stroke-width="1.06"/>
<line x1="250.7" y1="324.45" x2="250.7" y2="296.2" stroke="#1a1a1a" stroke-width="1.06"/>
<line x1="248.3" y1="324.45" x2="248.3" y2="304.9" stroke="#1a1a1a" stroke-width="0.88"/>
<line x1="256.3" y1="324.45" x2="256.3" y2="303.8" stroke="#1a1a1a" stroke-width="1.06"/>
<line x1="246.6" y1="324.45" x2="246.6" y2="311.9" stroke="#1a1a1a" stroke-width="0.88"/>
<line x1="258.3" y1="324.45" x2="258.3" y2="311.9" stroke="#1a1a1a" stroke-width="0.88"/>
<line x1="245.3" y1="324.45" x2="245.3" y2="317.9" stroke="#1a1a1a" stroke-width="0.88"/>
<line x1="260.7" y1="324.45" x2="260.7" y2="318.4" stroke="#1a1a1a" stroke-width="0.88"/>
<line x1="233.10" y1="384.4" x2="274.30" y2="384.4" stroke="#111" stroke-width="0.95"/>
<polygon points="250.00,384.4 250.00,381.69 250.83,379.51 251.67,377.83 252.50,375.63 253.33,378.91 254.17,378.95 255.00,380.99 255.00,384.4" fill="#1e1e1e"/>
<line x1="251.5" y1="384.4" x2="251.5" y2="332.9" stroke="#1a1a1a" stroke-width="1.32"/>
<line x1="254" y1="384.4" x2="254" y2="332.9" stroke="#1a1a1a" stroke-width="1.32"/>
<line x1="256.7" y1="384.4" x2="256.7" y2="356.2" stroke="#1a1a1a" stroke-width="1.06"/>
<line x1="249.1" y1="384.4" x2="249.1" y2="361.6" stroke="#1a1a1a" stroke-width="1.06"/>
<line x1="252.6" y1="384.4" x2="252.6" y2="367.6" stroke="#1a1a1a" stroke-width="0.88"/>
<line x1="246.9" y1="384.4" x2="246.9" y2="371.9" stroke="#1a1a1a" stroke-width="1.06"/>
<line x1="258.8" y1="384.4" x2="258.8" y2="372.5" stroke="#1a1a1a" stroke-width="1.06"/>
<text transform="translate(253.80 397.7) scale(0.9 1)" font-size="9" font-weight="bold" fill="#000" stroke="#000" stroke-width="0.3" text-anchor="middle">Vβ9</text>
<rect x="283.95" y="269.7" width="48" height="119.2" fill="#bababa" filter="url(#blur)"/>
<rect x="282.55" y="267.5" width="48" height="120" fill="#fff" stroke="#f0f0f0" stroke-width="1"/>
<line x1="285.85" y1="324.45" x2="327.05" y2="324.45" stroke="#111" stroke-width="0.95"/>
<polygon points="300.00,324.45 300.00,320.99 300.83,320.22 301.67,319.36 302.50,320.12 303.33,319.32 304.17,319.11 305.00,317.23 305.83,316.74 306.67,319.16 307.50,319.04 308.33,318.90 309.17,319.01 310.00,318.44 310.83,318.44 311.67,319.73 312.50,320.79 313.33,320.32 314.17,321.04 315.00,321.45 315.00,324.45" fill="#1e1e1e"/>
<line x1="306.6" y1="324.45" x2="306.6" y2="272.9" stroke="#1a1a1a" stroke-width="1.41"/>
<line x1="305.6" y1="324.45" x2="305.6" y2="292.9" stroke="#1a1a1a" stroke-width="1.14"/>
<line x1="304.2" y1="324.45" x2="304.2" y2="300.5" stroke="#1a1a1a" stroke-width="1.06"/>
<line x1="310.4" y1="324.45" x2="310.4" y2="302.2" stroke="#1a1a1a" stroke-width="1.06"/>
<line x1="300.7" y1="324.45" x2="300.7" y2="306" stroke="#1a1a1a" stroke-width="1.06"/>
<line x1="308.6" y1="324.45" x2="308.6" y2="308.1" stroke="#1a1a1a" stroke-width="0.88"/>
<line x1="309.7" y1="324.45" x2="309.7" y2="305.4" stroke="#1a1a1a" stroke-width="0.88"/>
<line x1="303.5" y1="324.45" x2="303.5" y2="304.9" stroke="#1a1a1a" stroke-width="0.88"/>
<line x1="312.4" y1="324.45" x2="312.4" y2="314.6" stroke="#1a1a1a" stroke-width="0.88"/>
<line x1="314.5" y1="324.45" x2="314.5" y2="314.1" stroke="#1a1a1a" stroke-width="0.88"/>
<line x1="299.9" y1="324.45" x2="299.9" y2="315.7" stroke="#1a1a1a" stroke-width="0.88"/>
<line x1="313.5" y1="324.45" x2="313.5" y2="317.3" stroke="#1a1a1a" stroke-width="0.88"/>
<line x1="285.85" y1="384.4" x2="327.05" y2="384.4" stroke="#111" stroke-width="0.95"/>
<polygon points="300.00,384.4 300.00,380.21 300.81,379.58 301.62,379.11 302.44,378.08 303.25,377.27 304.06,378.95 304.88,375.60 305.69,375.81 306.50,375.38 307.31,375.74 308.12,377.46 308.94,377.74 309.75,379.14 310.56,378.03 311.38,380.30 312.19,380.95 313.00,381.48 313.00,384.4" fill="#1e1e1e"/>
<polygon points="302.50,384.4 302.50,373.40 303.38,361.07 304.25,361.58 305.12,365.38 306.00,373.48 306.00,384.4" fill="#1e1e1e"/>
<line x1="304" y1="384.4" x2="304" y2="332.3" stroke="#1a1a1a" stroke-width="1.76"/>
<line x1="306.6" y1="384.4" x2="306.6" y2="339.9" stroke="#1a1a1a" stroke-width="1.32"/>
<line x1="303.5" y1="384.4" x2="303.5" y2="352.4" stroke="#1a1a1a" stroke-width="1.06"/>
<line x1="307.5" y1="384.4" x2="307.5" y2="355.7" stroke="#1a1a1a" stroke-width="1.06"/>
<line x1="310.4" y1="384.4" x2="310.4" y2="364.9" stroke="#1a1a1a" stroke-width="1.06"/>
<line x1="302.1" y1="384.4" x2="302.1" y2="366.5" stroke="#1a1a1a" stroke-width="0.88"/>
<line x1="300.4" y1="384.4" x2="300.4" y2="369.2" stroke="#1a1a1a" stroke-width="0.88"/>
<line x1="298.3" y1="384.4" x2="298.3" y2="370.8" stroke="#1a1a1a" stroke-width="0.88"/>
<line x1="308.6" y1="384.4" x2="308.6" y2="371.4" stroke="#1a1a1a" stroke-width="0.88"/>
<line x1="295.9" y1="384.4" x2="295.9" y2="375.2" stroke="#1a1a1a" stroke-width="1.06"/>
<line x1="312.4" y1="384.4" x2="312.4" y2="374.6" stroke="#1a1a1a" stroke-width="1.06"/>
<text transform="translate(306.55 397.7) scale(0.9 1)" font-size="9" font-weight="bold" fill="#000" stroke="#000" stroke-width="0.3" text-anchor="middle">Vβ11</text>
<rect x="336.7" y="269.7" width="48" height="119.2" fill="#bababa" filter="url(#blur)"/>
<rect x="335.3" y="267.5" width="48" height="120" fill="#fff" stroke="#f0f0f0" stroke-width="1"/>
<line x1="338.60" y1="324.45" x2="379.80" y2="324.45" stroke="#111" stroke-width="0.95"/>
<polygon points="354.00,324.45 354.00,322.13 354.80,320.92 355.60,320.99 356.40,318.31 357.20,318.45 358.00,319.46 358.80,318.92 359.60,318.51 360.40,318.45 361.20,319.33 362.00,317.34 362.80,317.37 363.60,319.37 364.40,319.94 365.20,321.45 366.00,322.12 366.00,324.45" fill="#1e1e1e"/>
<line x1="359.4" y1="324.45" x2="359.4" y2="272.9" stroke="#1a1a1a" stroke-width="1.41"/>
<line x1="363.4" y1="324.45" x2="363.4" y2="275.6" stroke="#1a1a1a" stroke-width="1.41"/>
<line x1="361.6" y1="324.45" x2="361.6" y2="296.2" stroke="#1a1a1a" stroke-width="1.06"/>
<line x1="357.2" y1="324.45" x2="357.2" y2="307.6" stroke="#1a1a1a" stroke-width="1.06"/>
<line x1="354.7" y1="324.45" x2="354.7" y2="314.9" stroke="#1a1a1a" stroke-width="1.06"/>
<line x1="367.5" y1="324.45" x2="367.5" y2="317.3" stroke="#1a1a1a" stroke-width="0.88"/>
<line x1="369.7" y1="324.45" x2="369.7" y2="320.6" stroke="#1a1a1a" stroke-width="0.88"/>
<line x1="365.4" y1="324.45" x2="365.4" y2="320" stroke="#1a1a1a" stroke-width="0.88"/>
<line x1="360.5" y1="324.45" x2="360.5" y2="313.6" stroke="#1a1a1a" stroke-width="0.88"/>
<line x1="338.60" y1="384.4" x2="379.80" y2="384.4" stroke="#111" stroke-width="0.95"/>
<polygon points="358.50,384.4 358.50,378.84 359.33,377.46 360.17,373.41 361.00,375.47 361.83,375.42 362.67,368.98 363.50,371.11 364.33,373.39 365.17,370.74 366.00,374.39 366.83,371.64 367.67,369.78 368.50,371.70 369.33,374.04 370.17,377.48 371.00,378.77 371.00,384.4" fill="#1e1e1e"/>
<line x1="363.7" y1="384.4" x2="363.7" y2="332.3" stroke="#1a1a1a" stroke-width="1.58"/>
<line x1="361.6" y1="384.4" x2="361.6" y2="335" stroke="#1a1a1a" stroke-width="1.32"/>
<line x1="359.4" y1="384.4" x2="359.4" y2="352.7" stroke="#1a1a1a" stroke-width="1.06"/>
<line x1="366.5" y1="384.4" x2="366.5" y2="357.3" stroke="#1a1a1a" stroke-width="1.06"/>
<line x1="368.1" y1="384.4" x2="368.1" y2="362.2" stroke="#1a1a1a" stroke-width="1.06"/>
<line x1="370.2" y1="384.4" x2="370.2" y2="365.4" stroke="#1a1a1a" stroke-width="0.88"/>
<line x1="365.4" y1="384.4" x2="365.4" y2="360.5" stroke="#1a1a1a" stroke-width="0.88"/>
<line x1="372.4" y1="384.4" x2="372.4" y2="376.3" stroke="#1a1a1a" stroke-width="0.88"/>
<line x1="355.1" y1="384.4" x2="355.1" y2="375.7" stroke="#1a1a1a" stroke-width="1.06"/>
<line x1="357.2" y1="384.4" x2="357.2" y2="377.9" stroke="#1a1a1a" stroke-width="0.88"/>
<text transform="translate(359.30 397.7) scale(0.9 1)" font-size="9" font-weight="bold" fill="#000" stroke="#000" stroke-width="0.3" text-anchor="middle">Vβ12</text>
<rect x="389.45" y="269.7" width="48" height="119.2" fill="#bababa" filter="url(#blur)"/>
<rect x="388.05" y="267.5" width="48" height="120" fill="#fff" stroke="#f0f0f0" stroke-width="1"/>
<line x1="391.35" y1="324.45" x2="432.55" y2="324.45" stroke="#111" stroke-width="0.95"/>
<polygon points="408.00,324.45 408.00,318.65 408.85,313.81 409.69,312.89 410.54,309.65 411.38,311.47 412.23,311.53 413.08,306.65 413.92,305.32 414.77,306.81 415.62,308.08 416.46,309.40 417.31,311.71 418.15,316.36 419.00,317.44 419.00,324.45" fill="#1e1e1e"/>
<line x1="411.9" y1="324.45" x2="411.9" y2="272.9" stroke="#1a1a1a" stroke-width="1.94"/>
<line x1="414.4" y1="324.45" x2="414.4" y2="278.8" stroke="#1a1a1a" stroke-width="1.32"/>
<line x1="416.4" y1="324.45" x2="416.4" y2="291.3" stroke="#1a1a1a" stroke-width="1.14"/>
<line x1="409.7" y1="324.45" x2="409.7" y2="302.7" stroke="#1a1a1a" stroke-width="1.06"/>
<line x1="417.8" y1="324.45" x2="417.8" y2="306.5" stroke="#1a1a1a" stroke-width="1.06"/>
<line x1="413.2" y1="324.45" x2="413.2" y2="300.5" stroke="#1a1a1a" stroke-width="0.88"/>
<line x1="407.5" y1="324.45" x2="407.5" y2="317.9" stroke="#1a1a1a" stroke-width="0.88"/>
<line x1="420.5" y1="324.45" x2="420.5" y2="317.9" stroke="#1a1a1a" stroke-width="0.88"/>
<line x1="405.4" y1="324.45" x2="405.4" y2="320.6" stroke="#1a1a1a" stroke-width="0.88"/>
<line x1="391.35" y1="384.4" x2="432.55" y2="384.4" stroke="#111" stroke-width="0.95"/>
<polygon points="409.50,384.4 409.50,381.23 410.33,380.81 411.17,380.01 412.00,378.57 412.83,378.12 413.67,376.20 414.50,375.07 415.33,377.11 416.17,375.71 417.00,376.25 417.83,377.35 418.67,380.02 419.50,381.46 419.50,384.4" fill="#1e1e1e"/>
<line x1="410.5" y1="384.4" x2="410.5" y2="332.3" stroke="#1a1a1a" stroke-width="1.76"/>
<line x1="409.7" y1="384.4" x2="409.7" y2="352.9" stroke="#1a1a1a" stroke-width="1.06"/>
<line x1="416.4" y1="384.4" x2="416.4" y2="356.7" stroke="#1a1a1a" stroke-width="1.14"/>
<line x1="418.6" y1="384.4" x2="418.6" y2="362.7" stroke="#1a1a1a" stroke-width="1.14"/>
<line x1="414" y1="384.4" x2="414" y2="362.2" stroke="#1a1a1a" stroke-width="1.14"/>
<line x1="411.9" y1="384.4" x2="411.9" y2="369.2" stroke="#1a1a1a" stroke-width="0.88"/>
<line x1="415.1" y1="384.4" x2="415.1" y2="371.4" stroke="#1a1a1a" stroke-width="0.88"/>
<line x1="422.2" y1="384.4" x2="422.2" y2="379.5" stroke="#1a1a1a" stroke-width="0.88"/>
<line x1="407.5" y1="384.4" x2="407.5" y2="381.1" stroke="#1a1a1a" stroke-width="0.88"/>
<text transform="translate(412.05 397.7) scale(0.9 1)" font-size="9" font-weight="bold" fill="#000" stroke="#000" stroke-width="0.3" text-anchor="middle">Vβ13a</text>
<text transform="translate(2.2 326.75) scale(0.78 1)" font-size="10.5" font-weight="bold" fill="#000" stroke="#000" stroke-width="0.35">HD</text>
<text transform="translate(3.6 386.79999999999995) scale(0.82 1)" font-size="10.5" font-weight="bold" fill="#000" stroke="#000" stroke-width="0.35">P2</text>
<rect x="469.0" y="269.7" width="47" height="119.2" fill="#bababa" filter="url(#blur)"/>
<rect x="467.6" y="267.5" width="47" height="120" fill="#fff" stroke="#f0f0f0" stroke-width="1"/>
<line x1="471.60" y1="324.45" x2="512.30" y2="324.45" stroke="#111" stroke-width="0.95"/>
<polygon points="487.50,324.45 487.50,320.78 488.33,316.92 489.17,316.89 490.00,319.93 490.00,324.45" fill="#1e1e1e"/>
<line x1="485.2" y1="324.45" x2="485.2" y2="272.9" stroke="#1a1a1a" stroke-width="1.14"/>
<line x1="493" y1="324.45" x2="493" y2="302.7" stroke="#1a1a1a" stroke-width="1.06"/>
<line x1="487.4" y1="324.45" x2="487.4" y2="310.3" stroke="#1a1a1a" stroke-width="0.88"/>
<line x1="491.4" y1="324.45" x2="491.4" y2="310.3" stroke="#1a1a1a" stroke-width="0.88"/>
<line x1="488.7" y1="324.45" x2="488.7" y2="314.6" stroke="#1a1a1a" stroke-width="0.88"/>
<line x1="497.4" y1="324.45" x2="497.4" y2="315.2" stroke="#1a1a1a" stroke-width="0.88"/>
<line x1="495.4" y1="324.45" x2="495.4" y2="316.8" stroke="#1a1a1a" stroke-width="0.88"/>
<line x1="499.3" y1="324.45" x2="499.3" y2="320" stroke="#1a1a1a" stroke-width="0.88"/>
<line x1="483.3" y1="324.45" x2="483.3" y2="320" stroke="#1a1a1a" stroke-width="0.88"/>
<line x1="471.60" y1="384.4" x2="512.30" y2="384.4" stroke="#111" stroke-width="0.95"/>
<line x1="491.4" y1="384.4" x2="491.4" y2="332.3" stroke="#1a1a1a" stroke-width="1.32"/>
<line x1="491.4" y1="384.4" x2="491.4" y2="355" stroke="#1a1a1a" stroke-width="1.94"/>
<line x1="495.4" y1="384.4" x2="495.4" y2="364.9" stroke="#1a1a1a" stroke-width="1.41"/>
<line x1="495" y1="384.4" x2="495" y2="369.2" stroke="#1a1a1a" stroke-width="0.88"/>
<line x1="484.4" y1="384.4" x2="484.4" y2="380.1" stroke="#1a1a1a" stroke-width="1.23"/>
<line x1="490.3" y1="384.4" x2="490.3" y2="381.1" stroke="#1a1a1a" stroke-width="0.88"/>
<line x1="497.4" y1="384.4" x2="497.4" y2="382.8" stroke="#1a1a1a" stroke-width="0.88"/>
<line x1="503.9" y1="384.4" x2="503.9" y2="383.3" stroke="#1a1a1a" stroke-width="0.88"/>
<text transform="translate(492.10 397.7) scale(0.9 1)" font-size="9" font-weight="bold" fill="#000" stroke="#000" stroke-width="0.3" text-anchor="middle">Vδ2</text>
<rect x="20.2" y="422.4" width="48" height="119.2" fill="#bababa" filter="url(#blur)"/>
<rect x="18.8" y="420.2" width="48" height="120" fill="#fff" stroke="#f0f0f0" stroke-width="1"/>
<line x1="22.10" y1="475.6" x2="63.30" y2="475.6" stroke="#111" stroke-width="0.95"/>
<polygon points="33.50,475.6 33.50,466.63 34.31,464.62 35.11,464.64 35.92,462.10 36.72,459.75 37.53,463.88 38.33,458.76 39.14,456.14 39.94,456.79 40.75,456.92 41.56,459.29 42.36,462.05 43.17,457.76 43.97,462.04 44.78,459.74 45.58,460.10 46.39,465.10 47.19,466.68 48.00,466.46 48.00,475.6" fill="#1e1e1e"/>
<line x1="35.4" y1="475.6" x2="35.4" y2="424.3" stroke="#1a1a1a" stroke-width="1.23"/>
<line x1="37.3" y1="475.6" x2="37.3" y2="428.1" stroke="#1a1a1a" stroke-width="1.14"/>
<line x1="39.7" y1="475.6" x2="39.7" y2="434.1" stroke="#1a1a1a" stroke-width="1.14"/>
<line x1="30.1" y1="475.6" x2="30.1" y2="431.9" stroke="#1a1a1a" stroke-width="1.14"/>
<line x1="43.5" y1="475.6" x2="43.5" y2="427.1" stroke="#1a1a1a" stroke-width="1.23"/>
<line x1="45.1" y1="475.6" x2="45.1" y2="431.9" stroke="#1a1a1a" stroke-width="1.14"/>
<line x1="46.4" y1="475.6" x2="46.4" y2="429.8" stroke="#1a1a1a" stroke-width="1.14"/>
<line x1="41.3" y1="475.6" x2="41.3" y2="451.5" stroke="#1a1a1a" stroke-width="1.06"/>
<line x1="34.1" y1="475.6" x2="34.1" y2="453.6" stroke="#1a1a1a" stroke-width="1.06"/>
<line x1="47.5" y1="475.6" x2="47.5" y2="452.5" stroke="#1a1a1a" stroke-width="1.06"/>
<line x1="54.6" y1="475.6" x2="54.6" y2="458.5" stroke="#1a1a1a" stroke-width="1.06"/>
<line x1="29.4" y1="475.6" x2="29.4" y2="468.8" stroke="#1a1a1a" stroke-width="1.32"/>
<line x1="22.10" y1="535.55" x2="63.30" y2="535.55" stroke="#111" stroke-width="0.95"/>
<line x1="43.3" y1="535.55" x2="43.3" y2="484.3" stroke="#1a1a1a" stroke-width="1.58"/>
<line x1="39.4" y1="535.55" x2="39.4" y2="514.5" stroke="#1a1a1a" stroke-width="1.14"/>
<line x1="42.4" y1="535.55" x2="42.4" y2="522.3" stroke="#1a1a1a" stroke-width="1.32"/>
<line x1="37.3" y1="535.55" x2="37.3" y2="528.8" stroke="#1a1a1a" stroke-width="0.88"/>
<line x1="45.7" y1="535.55" x2="45.7" y2="529.9" stroke="#1a1a1a" stroke-width="0.88"/>
<line x1="31.6" y1="535.55" x2="31.6" y2="533.1" stroke="#1a1a1a" stroke-width="0.88"/>
<line x1="58.1" y1="535.55" x2="58.1" y2="533.1" stroke="#1a1a1a" stroke-width="0.88"/>
<line x1="47.3" y1="535.55" x2="47.3" y2="533.1" stroke="#1a1a1a" stroke-width="0.88"/>
<line x1="35.4" y1="535.55" x2="35.4" y2="533.7" stroke="#1a1a1a" stroke-width="0.88"/>
<text transform="translate(42.80 549.7) scale(0.9 1)" font-size="9" font-weight="bold" fill="#000" stroke="#000" stroke-width="0.3" text-anchor="middle">Vβ13b</text>
<rect x="72.95" y="422.4" width="48" height="119.2" fill="#bababa" filter="url(#blur)"/>
<rect x="71.55" y="420.2" width="48" height="120" fill="#fff" stroke="#f0f0f0" stroke-width="1"/>
<line x1="74.85" y1="475.6" x2="116.05" y2="475.6" stroke="#111" stroke-width="0.95"/>
<polygon points="91.00,475.6 91.00,472.20 91.85,472.16 92.69,471.53 93.54,470.88 94.38,468.09 95.23,467.99 96.08,470.02 96.92,467.72 97.77,467.41 98.62,468.86 99.46,470.31 100.31,470.47 101.15,472.24 102.00,473.28 102.00,475.6" fill="#1e1e1e"/>
<line x1="95.7" y1="475.6" x2="95.7" y2="424.3" stroke="#1a1a1a" stroke-width="1.32"/>
<line x1="93.5" y1="475.6" x2="93.5" y2="436.3" stroke="#1a1a1a" stroke-width="1.58"/>
<line x1="97.6" y1="475.6" x2="97.6" y2="460.7" stroke="#1a1a1a" stroke-width="1.06"/>
<line x1="99.4" y1="475.6" x2="99.4" y2="463.9" stroke="#1a1a1a" stroke-width="1.06"/>
<line x1="101.9" y1="475.6" x2="101.9" y2="467.2" stroke="#1a1a1a" stroke-width="1.06"/>
<line x1="91.6" y1="475.6" x2="91.6" y2="469.9" stroke="#1a1a1a" stroke-width="0.88"/>
<line x1="96.5" y1="475.6" x2="96.5" y2="455.8" stroke="#1a1a1a" stroke-width="0.88"/>
<line x1="74.85" y1="535.55" x2="116.05" y2="535.55" stroke="#111" stroke-width="0.95"/>
<polygon points="96.00,535.55 96.00,532.46 96.80,530.77 97.60,530.05 98.40,528.95 99.20,531.25 100.00,532.59 100.00,535.55" fill="#1e1e1e"/>
<line x1="97.6" y1="535.55" x2="97.6" y2="484.3" stroke="#1a1a1a" stroke-width="1.41"/>
<line x1="95.7" y1="535.55" x2="95.7" y2="521.8" stroke="#1a1a1a" stroke-width="1.06"/>
<line x1="98.7" y1="535.55" x2="98.7" y2="522.8" stroke="#1a1a1a" stroke-width="1.06"/>
<line x1="101.9" y1="535.55" x2="101.9" y2="522.8" stroke="#1a1a1a" stroke-width="1.06"/>
<line x1="105.7" y1="535.55" x2="105.7" y2="520.1" stroke="#1a1a1a" stroke-width="1.06"/>
<line x1="93.6" y1="535.55" x2="93.6" y2="528.8" stroke="#1a1a1a" stroke-width="0.88"/>
<line x1="91.4" y1="535.55" x2="91.4" y2="529.3" stroke="#1a1a1a" stroke-width="0.88"/>
<line x1="99.7" y1="535.55" x2="99.7" y2="527.7" stroke="#1a1a1a" stroke-width="0.88"/>
<text transform="translate(95.55 549.7) scale(0.9 1)" font-size="9" font-weight="bold" fill="#000" stroke="#000" stroke-width="0.3" text-anchor="middle">Vβ14</text>
<rect x="125.7" y="422.4" width="48" height="119.2" fill="#bababa" filter="url(#blur)"/>
<rect x="124.3" y="420.2" width="48" height="120" fill="#fff" stroke="#f0f0f0" stroke-width="1"/>
<line x1="127.60" y1="475.6" x2="168.80" y2="475.6" stroke="#111" stroke-width="0.95"/>
<polygon points="138.00,475.6 138.00,470.31 138.85,470.36 139.69,469.09 140.54,467.99 141.38,467.53 142.23,465.37 143.08,466.74 143.92,465.94 144.77,467.60 145.62,464.42 146.46,467.73 147.31,468.32 148.15,469.22 149.00,470.14 149.00,475.6" fill="#1e1e1e"/>
<line x1="143.8" y1="475.6" x2="143.8" y2="424.3" stroke="#1a1a1a" stroke-width="1.58"/>
<line x1="145.7" y1="475.6" x2="145.7" y2="439.5" stroke="#1a1a1a" stroke-width="1.58"/>
<line x1="141.4" y1="475.6" x2="141.4" y2="458.5" stroke="#1a1a1a" stroke-width="1.06"/>
<line x1="139.2" y1="475.6" x2="139.2" y2="460.7" stroke="#1a1a1a" stroke-width="1.06"/>
<line x1="148.4" y1="475.6" x2="148.4" y2="459" stroke="#1a1a1a" stroke-width="1.06"/>
<line x1="136.5" y1="475.6" x2="136.5" y2="467.7" stroke="#1a1a1a" stroke-width="0.88"/>
<line x1="150.9" y1="475.6" x2="150.9" y2="466.1" stroke="#1a1a1a" stroke-width="1.06"/>
<line x1="159.6" y1="475.6" x2="159.6" y2="472.1" stroke="#1a1a1a" stroke-width="1.06"/>
<line x1="144.6" y1="475.6" x2="144.6" y2="464.5" stroke="#1a1a1a" stroke-width="0.88"/>
<line x1="127.60" y1="535.55" x2="168.80" y2="535.55" stroke="#111" stroke-width="0.95"/>
<polygon points="149.50,535.55 149.50,525.37 150.33,508.82 151.17,513.42 152.00,524.78 152.00,535.55" fill="#1e1e1e"/>
<line x1="150.9" y1="535.55" x2="150.9" y2="484.3" stroke="#1a1a1a" stroke-width="1.58"/>
<line x1="148.6" y1="535.55" x2="148.6" y2="502.8" stroke="#1a1a1a" stroke-width="1.14"/>
<line x1="144.1" y1="535.55" x2="144.1" y2="522.3" stroke="#1a1a1a" stroke-width="1.06"/>
<line x1="141.6" y1="535.55" x2="141.6" y2="526.1" stroke="#1a1a1a" stroke-width="0.88"/>
<line x1="146.6" y1="535.55" x2="146.6" y2="526.1" stroke="#1a1a1a" stroke-width="0.88"/>
<line x1="155.5" y1="535.55" x2="155.5" y2="526.6" stroke="#1a1a1a" stroke-width="0.88"/>
<line x1="157.8" y1="535.55" x2="157.8" y2="532.1" stroke="#1a1a1a" stroke-width="0.88"/>
<line x1="160.3" y1="535.55" x2="160.3" y2="532.9" stroke="#1a1a1a" stroke-width="0.88"/>
<line x1="137" y1="535.55" x2="137" y2="533.7" stroke="#1a1a1a" stroke-width="0.88"/>
<line x1="139.7" y1="535.55" x2="139.7" y2="533.7" stroke="#1a1a1a" stroke-width="0.88"/>
<text transform="translate(148.30 549.7) scale(0.9 1)" font-size="9" font-weight="bold" fill="#000" stroke="#000" stroke-width="0.3" text-anchor="middle">Vβ16</text>
<rect x="178.45000000000002" y="422.4" width="48" height="119.2" fill="#bababa" filter="url(#blur)"/>
<rect x="177.05" y="420.2" width="48" height="120" fill="#fff" stroke="#f0f0f0" stroke-width="1"/>
<line x1="180.35" y1="475.6" x2="221.55" y2="475.6" stroke="#111" stroke-width="0.95"/>
<polygon points="193.00,475.6 193.00,472.00 193.81,472.13 194.62,470.31 195.44,470.38 196.25,470.48 197.06,467.22 197.88,469.22 198.69,467.87 199.50,466.81 200.31,467.55 201.12,468.64 201.94,468.24 202.75,468.60 203.56,468.52 204.38,471.22 205.19,470.89 206.00,472.49 206.00,475.6" fill="#1e1e1e"/>
<line x1="200.6" y1="475.6" x2="200.6" y2="424.3" stroke="#1a1a1a" stroke-width="1.58"/>
<line x1="196" y1="475.6" x2="196" y2="430.3" stroke="#1a1a1a" stroke-width="1.94"/>
<line x1="198.5" y1="475.6" x2="198.5" y2="432.5" stroke="#1a1a1a" stroke-width="1.58"/>
<line x1="193.5" y1="475.6" x2="193.5" y2="443.9" stroke="#1a1a1a" stroke-width="1.06"/>
<line x1="194.9" y1="475.6" x2="194.9" y2="458" stroke="#1a1a1a" stroke-width="0.88"/>
<line x1="202.5" y1="475.6" x2="202.5" y2="465" stroke="#1a1a1a" stroke-width="0.88"/>
<line x1="203.6" y1="475.6" x2="203.6" y2="466.1" stroke="#1a1a1a" stroke-width="0.88"/>
<line x1="205.4" y1="475.6" x2="205.4" y2="469.3" stroke="#1a1a1a" stroke-width="0.88"/>
<line x1="187.3" y1="475.6" x2="187.3" y2="471" stroke="#1a1a1a" stroke-width="0.88"/>
<line x1="191.3" y1="475.6" x2="191.3" y2="471" stroke="#1a1a1a" stroke-width="0.88"/>
<line x1="180.35" y1="535.55" x2="221.55" y2="535.55" stroke="#111" stroke-width="0.95"/>
<polygon points="193.50,535.55 193.50,533.33 194.33,531.98 195.17,531.83 196.00,531.23 196.83,530.34 197.67,529.58 198.50,530.49 199.33,529.85 200.17,530.02 201.00,529.97 201.83,529.51 202.67,530.28 203.50,530.25 204.33,530.66 205.17,529.92 206.00,530.94 206.83,531.15 207.67,531.72 208.50,533.35 208.50,535.55" fill="#1e1e1e"/>
<line x1="207.4" y1="535.55" x2="207.4" y2="484.3" stroke="#1a1a1a" stroke-width="1.23"/>
<line x1="200.6" y1="535.55" x2="200.6" y2="492.8" stroke="#1a1a1a" stroke-width="1.32"/>
<line x1="198.5" y1="535.55" x2="198.5" y2="508.7" stroke="#1a1a1a" stroke-width="1.14"/>
<line x1="196" y1="535.55" x2="196" y2="511.5" stroke="#1a1a1a" stroke-width="1.58"/>
<line x1="202.8" y1="535.55" x2="202.8" y2="519" stroke="#1a1a1a" stroke-width="1.06"/>
<line x1="194.4" y1="535.55" x2="194.4" y2="525.6" stroke="#1a1a1a" stroke-width="0.88"/>
<line x1="193.5" y1="535.55" x2="193.5" y2="529.9" stroke="#1a1a1a" stroke-width="0.88"/>
<line x1="204.7" y1="535.55" x2="204.7" y2="528.3" stroke="#1a1a1a" stroke-width="0.88"/>
<line x1="205.7" y1="535.55" x2="205.7" y2="528.8" stroke="#1a1a1a" stroke-width="0.88"/>
<line x1="191.4" y1="535.55" x2="191.4" y2="532.1" stroke="#1a1a1a" stroke-width="0.88"/>
<text transform="translate(201.05 549.7) scale(0.9 1)" font-size="9" font-weight="bold" fill="#000" stroke="#000" stroke-width="0.3" text-anchor="middle">Vβ17</text>
<rect x="231.20000000000002" y="422.4" width="48" height="119.2" fill="#bababa" filter="url(#blur)"/>
<rect x="229.8" y="420.2" width="48" height="120" fill="#fff" stroke="#f0f0f0" stroke-width="1"/>
<line x1="233.10" y1="475.6" x2="274.30" y2="475.6" stroke="#111" stroke-width="0.95"/>
<polygon points="243.00,475.6 243.00,469.95 243.82,466.18 244.64,464.51 245.45,466.75 246.27,466.11 247.09,463.81 247.91,466.05 248.73,465.42 249.55,467.09 250.36,465.31 251.18,466.80 252.00,469.02 252.00,475.6" fill="#1e1e1e"/>
<line x1="249.1" y1="475.6" x2="249.1" y2="424.3" stroke="#1a1a1a" stroke-width="1.76"/>
<line x1="250.7" y1="475.6" x2="250.7" y2="444.4" stroke="#1a1a1a" stroke-width="1.32"/>
<line x1="245" y1="475.6" x2="245" y2="440.1" stroke="#1a1a1a" stroke-width="1.58"/>
<line x1="247.4" y1="475.6" x2="247.4" y2="455.2" stroke="#1a1a1a" stroke-width="1.06"/>
<line x1="242.6" y1="475.6" x2="242.6" y2="460.1" stroke="#1a1a1a" stroke-width="1.06"/>
<line x1="253.4" y1="475.6" x2="253.4" y2="468.8" stroke="#1a1a1a" stroke-width="0.88"/>
<line x1="255" y1="475.6" x2="255" y2="471" stroke="#1a1a1a" stroke-width="0.88"/>
<line x1="257.4" y1="475.6" x2="257.4" y2="468.8" stroke="#1a1a1a" stroke-width="0.88"/>
<line x1="258.8" y1="475.6" x2="258.8" y2="471" stroke="#1a1a1a" stroke-width="0.88"/>
<line x1="239.3" y1="475.6" x2="239.3" y2="474.2" stroke="#1a1a1a" stroke-width="0.88"/>
<line x1="233.10" y1="535.55" x2="274.30" y2="535.55" stroke="#111" stroke-width="0.95"/>
<polygon points="249.00,535.55 249.00,532.37 249.86,528.73 250.71,527.25 251.57,528.61 252.43,525.48 253.29,526.07 254.14,530.26 255.00,530.83 255.00,535.55" fill="#1e1e1e"/>
<line x1="253.9" y1="535.55" x2="253.9" y2="484.3" stroke="#1a1a1a" stroke-width="1.58"/>
<line x1="251.5" y1="535.55" x2="251.5" y2="504.4" stroke="#1a1a1a" stroke-width="1.32"/>
<line x1="249.6" y1="535.55" x2="249.6" y2="525.6" stroke="#1a1a1a" stroke-width="1.06"/>
<line x1="245.1" y1="535.55" x2="245.1" y2="528.3" stroke="#1a1a1a" stroke-width="1.06"/>
<line x1="243.4" y1="535.55" x2="243.4" y2="531" stroke="#1a1a1a" stroke-width="0.88"/>
<line x1="247.4" y1="535.55" x2="247.4" y2="531.5" stroke="#1a1a1a" stroke-width="0.88"/>
<line x1="257.4" y1="535.55" x2="257.4" y2="531.5" stroke="#1a1a1a" stroke-width="0.88"/>
<line x1="258.5" y1="535.55" x2="258.5" y2="532" stroke="#1a1a1a" stroke-width="0.88"/>
<text transform="translate(253.80 549.7) scale(0.9 1)" font-size="9" font-weight="bold" fill="#000" stroke="#000" stroke-width="0.3" text-anchor="middle">Vβ18</text>
<rect x="283.95" y="422.4" width="48" height="119.2" fill="#bababa" filter="url(#blur)"/>
<rect x="282.55" y="420.2" width="48" height="120" fill="#fff" stroke="#f0f0f0" stroke-width="1"/>
<line x1="285.85" y1="475.6" x2="327.05" y2="475.6" stroke="#111" stroke-width="0.95"/>
<polygon points="302.00,475.6 302.00,469.45 302.80,467.20 303.60,462.98 304.40,462.13 305.20,465.07 306.00,462.54 306.80,461.41 307.60,462.39 308.40,463.42 309.20,462.79 310.00,460.58 310.80,465.97 311.60,463.74 312.40,465.76 313.20,469.19 314.00,469.67 314.00,475.6" fill="#1e1e1e"/>
<line x1="302.6" y1="475.6" x2="302.6" y2="424.3" stroke="#1a1a1a" stroke-width="1.76"/>
<line x1="310.7" y1="475.6" x2="310.7" y2="424.9" stroke="#1a1a1a" stroke-width="1.76"/>
<line x1="308.2" y1="475.6" x2="308.2" y2="428.1" stroke="#1a1a1a" stroke-width="1.58"/>
<line x1="304.2" y1="475.6" x2="304.2" y2="448.7" stroke="#1a1a1a" stroke-width="1.14"/>
<line x1="307" y1="475.6" x2="307" y2="445.5" stroke="#1a1a1a" stroke-width="1.14"/>
<line x1="312.4" y1="475.6" x2="312.4" y2="450.4" stroke="#1a1a1a" stroke-width="1.14"/>
<line x1="297.2" y1="475.6" x2="297.2" y2="456.3" stroke="#1a1a1a" stroke-width="1.06"/>
<line x1="316.9" y1="475.6" x2="316.9" y2="469.3" stroke="#1a1a1a" stroke-width="1.06"/>
<line x1="285.85" y1="535.55" x2="327.05" y2="535.55" stroke="#111" stroke-width="0.95"/>
<polygon points="304.00,535.55 304.00,529.74 304.81,528.14 305.62,528.55 306.42,522.86 307.23,522.78 308.04,520.97 308.85,525.83 309.65,524.86 310.46,526.47 311.27,522.83 312.08,526.51 312.88,528.26 313.69,528.47 314.50,528.96 314.50,535.55" fill="#1e1e1e"/>
<polygon points="305.50,535.55 305.50,526.39 306.36,524.45 307.21,522.54 308.07,514.56 308.93,517.58 309.79,518.19 310.64,525.52 311.50,529.40 311.50,535.55" fill="#1e1e1e"/>
<line x1="306.7" y1="535.55" x2="306.7" y2="484.3" stroke="#1a1a1a" stroke-width="1.76"/>
<line x1="304.6" y1="535.55" x2="304.6" y2="495.2" stroke="#1a1a1a" stroke-width="1.41"/>
<line x1="310.7" y1="535.55" x2="310.7" y2="492.8" stroke="#1a1a1a" stroke-width="1.41"/>
<line x1="308.6" y1="535.55" x2="308.6" y2="500.1" stroke="#1a1a1a" stroke-width="1.06"/>
<line x1="309.3" y1="535.55" x2="309.3" y2="505" stroke="#1a1a1a" stroke-width="1.06"/>
<line x1="312.9" y1="535.55" x2="312.9" y2="515.8" stroke="#1a1a1a" stroke-width="1.06"/>
<line x1="315.1" y1="535.55" x2="315.1" y2="520.1" stroke="#1a1a1a" stroke-width="1.06"/>
<line x1="302.4" y1="535.55" x2="302.4" y2="516.3" stroke="#1a1a1a" stroke-width="1.06"/>
<line x1="290.1" y1="535.55" x2="290.1" y2="512.5" stroke="#1a1a1a" stroke-width="1.14"/>
<line x1="286.1" y1="535.55" x2="286.1" y2="526.6" stroke="#1a1a1a" stroke-width="1.14"/>
<text transform="translate(306.55 549.7) scale(0.9 1)" font-size="9" font-weight="bold" fill="#000" stroke="#000" stroke-width="0.3" text-anchor="middle">Vβ20</text>
<rect x="336.7" y="422.4" width="48" height="119.2" fill="#bababa" filter="url(#blur)"/>
<rect x="335.3" y="420.2" width="48" height="120" fill="#fff" stroke="#f0f0f0" stroke-width="1"/>
<line x1="338.60" y1="475.6" x2="379.80" y2="475.6" stroke="#111" stroke-width="0.95"/>
<polygon points="354.00,475.6 354.00,471.61 354.88,470.21 355.75,470.11 356.62,466.06 357.50,466.96 358.38,466.60 359.25,470.07 360.12,469.01 361.00,472.74 361.00,475.6" fill="#1e1e1e"/>
<line x1="359.7" y1="475.6" x2="359.7" y2="424.3" stroke="#1a1a1a" stroke-width="1.41"/>
<line x1="357.2" y1="475.6" x2="357.2" y2="446.6" stroke="#1a1a1a" stroke-width="1.14"/>
<line x1="356.1" y1="475.6" x2="356.1" y2="451.5" stroke="#1a1a1a" stroke-width="1.06"/>
<line x1="355.1" y1="475.6" x2="355.1" y2="455.8" stroke="#1a1a1a" stroke-width="1.06"/>
<line x1="354.3" y1="475.6" x2="354.3" y2="458" stroke="#1a1a1a" stroke-width="0.88"/>
<line x1="352.6" y1="475.6" x2="352.6" y2="467.7" stroke="#1a1a1a" stroke-width="0.88"/>
<line x1="363.4" y1="475.6" x2="363.4" y2="466.1" stroke="#1a1a1a" stroke-width="1.06"/>
<line x1="361.9" y1="475.6" x2="361.9" y2="469.9" stroke="#1a1a1a" stroke-width="0.88"/>
<line x1="364.8" y1="475.6" x2="364.8" y2="472.1" stroke="#1a1a1a" stroke-width="0.88"/>
<line x1="367.5" y1="475.6" x2="367.5" y2="473.1" stroke="#1a1a1a" stroke-width="0.88"/>
<line x1="351.3" y1="475.6" x2="351.3" y2="473.1" stroke="#1a1a1a" stroke-width="0.88"/>
<line x1="338.60" y1="535.55" x2="379.80" y2="535.55" stroke="#111" stroke-width="0.95"/>
<polygon points="357.00,535.55 357.00,527.28 357.86,524.62 358.71,522.70 359.57,519.77 360.43,516.89 361.29,523.19 362.14,526.44 363.00,528.46 363.00,535.55" fill="#1e1e1e"/>
<line x1="359.4" y1="535.55" x2="359.4" y2="484.3" stroke="#1a1a1a" stroke-width="1.50"/>
<line x1="361.2" y1="535.55" x2="361.2" y2="494.1" stroke="#1a1a1a" stroke-width="1.32"/>
<line x1="357.5" y1="535.55" x2="357.5" y2="502.2" stroke="#1a1a1a" stroke-width="1.14"/>
<line x1="363.4" y1="535.55" x2="363.4" y2="500.1" stroke="#1a1a1a" stroke-width="1.14"/>
<line x1="355.4" y1="535.55" x2="355.4" y2="517.4" stroke="#1a1a1a" stroke-width="1.06"/>
<line x1="352.9" y1="535.55" x2="352.9" y2="525.6" stroke="#1a1a1a" stroke-width="0.88"/>
<line x1="365.7" y1="535.55" x2="365.7" y2="529.3" stroke="#1a1a1a" stroke-width="0.88"/>
<line x1="351.3" y1="535.55" x2="351.3" y2="533.1" stroke="#1a1a1a" stroke-width="0.88"/>
<text transform="translate(359.30 549.7) scale(0.9 1)" font-size="9" font-weight="bold" fill="#000" stroke="#000" stroke-width="0.3" text-anchor="middle">Vβ21</text>
<rect x="389.45" y="422.4" width="48" height="119.2" fill="#bababa" filter="url(#blur)"/>
<rect x="388.05" y="420.2" width="48" height="120" fill="#fff" stroke="#f0f0f0" stroke-width="1"/>
<line x1="391.35" y1="475.6" x2="432.55" y2="475.6" stroke="#111" stroke-width="0.95"/>
<polygon points="410.50,475.6 410.50,472.24 411.34,471.59 412.19,470.67 413.03,470.37 413.88,469.29 414.72,468.41 415.56,468.11 416.41,465.97 417.25,467.90 418.09,467.07 418.94,468.63 419.78,468.27 420.62,469.97 421.47,469.69 422.31,471.10 423.16,470.04 424.00,471.63 424.00,475.6" fill="#1e1e1e"/>
<line x1="417.8" y1="475.6" x2="417.8" y2="424.3" stroke="#1a1a1a" stroke-width="1.76"/>
<line x1="415.3" y1="475.6" x2="415.3" y2="435.2" stroke="#1a1a1a" stroke-width="1.41"/>
<line x1="420.3" y1="475.6" x2="420.3" y2="434.6" stroke="#1a1a1a" stroke-width="1.23"/>
<line x1="419.5" y1="475.6" x2="419.5" y2="440.1" stroke="#1a1a1a" stroke-width="1.06"/>
<line x1="413.2" y1="475.6" x2="413.2" y2="456.3" stroke="#1a1a1a" stroke-width="1.06"/>
<line x1="422.5" y1="475.6" x2="422.5" y2="463.4" stroke="#1a1a1a" stroke-width="1.06"/>
<line x1="424.3" y1="475.6" x2="424.3" y2="465.5" stroke="#1a1a1a" stroke-width="0.88"/>
<line x1="411" y1="475.6" x2="411" y2="466.6" stroke="#1a1a1a" stroke-width="0.88"/>
<line x1="426.5" y1="475.6" x2="426.5" y2="471" stroke="#1a1a1a" stroke-width="0.88"/>
<line x1="430.3" y1="475.6" x2="430.3" y2="473.1" stroke="#1a1a1a" stroke-width="0.88"/>
<line x1="408.6" y1="475.6" x2="408.6" y2="473.1" stroke="#1a1a1a" stroke-width="0.88"/>
<line x1="391.35" y1="535.55" x2="432.55" y2="535.55" stroke="#111" stroke-width="0.95"/>
<polygon points="411.50,535.55 411.50,533.82 412.32,532.71 413.14,531.24 413.95,532.31 414.77,530.49 415.59,531.17 416.41,531.03 417.23,530.46 418.05,531.73 418.86,532.00 419.68,532.41 420.50,533.01 420.50,535.55" fill="#1e1e1e"/>
<line x1="412.4" y1="535.55" x2="412.4" y2="484.3" stroke="#1a1a1a" stroke-width="1.14"/>
<line x1="420.3" y1="535.55" x2="420.3" y2="512.5" stroke="#1a1a1a" stroke-width="1.14"/>
<line x1="418.4" y1="535.55" x2="418.4" y2="516.9" stroke="#1a1a1a" stroke-width="1.06"/>
<line x1="417.5" y1="535.55" x2="417.5" y2="519" stroke="#1a1a1a" stroke-width="1.06"/>
<line x1="415.7" y1="535.55" x2="415.7" y2="527.2" stroke="#1a1a1a" stroke-width="0.88"/>
<line x1="413.5" y1="535.55" x2="413.5" y2="526.1" stroke="#1a1a1a" stroke-width="0.88"/>
<line x1="405.1" y1="535.55" x2="405.1" y2="528.3" stroke="#1a1a1a" stroke-width="1.06"/>
<line x1="422.5" y1="535.55" x2="422.5" y2="530.4" stroke="#1a1a1a" stroke-width="0.88"/>
<line x1="424.3" y1="535.55" x2="424.3" y2="531" stroke="#1a1a1a" stroke-width="0.88"/>
<line x1="426.5" y1="535.55" x2="426.5" y2="532.1" stroke="#1a1a1a" stroke-width="0.88"/>
<line x1="410.8" y1="535.55" x2="410.8" y2="534.2" stroke="#1a1a1a" stroke-width="0.88"/>
<text transform="translate(412.05 549.7) scale(0.9 1)" font-size="9" font-weight="bold" fill="#000" stroke="#000" stroke-width="0.3" text-anchor="middle">Vβ22</text>
<text transform="translate(2.2 477.90000000000003) scale(0.78 1)" font-size="10.5" font-weight="bold" fill="#000" stroke="#000" stroke-width="0.35">HD</text>
<text transform="translate(3.6 537.9499999999999) scale(0.82 1)" font-size="10.5" font-weight="bold" fill="#000" stroke="#000" stroke-width="0.35">P2</text>
<rect x="469.0" y="422.4" width="47" height="119.2" fill="#bababa" filter="url(#blur)"/>
<rect x="467.6" y="420.2" width="47" height="120" fill="#fff" stroke="#f0f0f0" stroke-width="1"/>
<line x1="471.60" y1="475.6" x2="512.30" y2="475.6" stroke="#111" stroke-width="0.95"/>
<line x1="494.1" y1="475.6" x2="494.1" y2="424.3" stroke="#1a1a1a" stroke-width="1.23"/>
<line x1="493" y1="475.6" x2="493" y2="461.8" stroke="#1a1a1a" stroke-width="1.06"/>
<line x1="489.2" y1="475.6" x2="489.2" y2="472.1" stroke="#1a1a1a" stroke-width="0.88"/>
<line x1="495.4" y1="475.6" x2="495.4" y2="472.6" stroke="#1a1a1a" stroke-width="0.88"/>
<line x1="492.2" y1="475.6" x2="492.2" y2="472.6" stroke="#1a1a1a" stroke-width="0.88"/>
<line x1="471.60" y1="535.55" x2="512.30" y2="535.55" stroke="#111" stroke-width="0.95"/>
<line x1="494.1" y1="535.55" x2="494.1" y2="484.1" stroke="#1a1a1a" stroke-width="1.32"/>
<line x1="493" y1="535.55" x2="493" y2="526.1" stroke="#1a1a1a" stroke-width="1.58"/>
<line x1="484.4" y1="535.55" x2="484.4" y2="533.7" stroke="#1a1a1a" stroke-width="0.88"/>
<line x1="489.8" y1="535.55" x2="489.8" y2="534.8" stroke="#1a1a1a" stroke-width="0.88"/>
<text transform="translate(492.10 549.7) scale(0.9 1)" font-size="9" font-weight="bold" fill="#000" stroke="#000" stroke-width="0.3" text-anchor="middle">Vγ9</text>
</svg></body></html>
